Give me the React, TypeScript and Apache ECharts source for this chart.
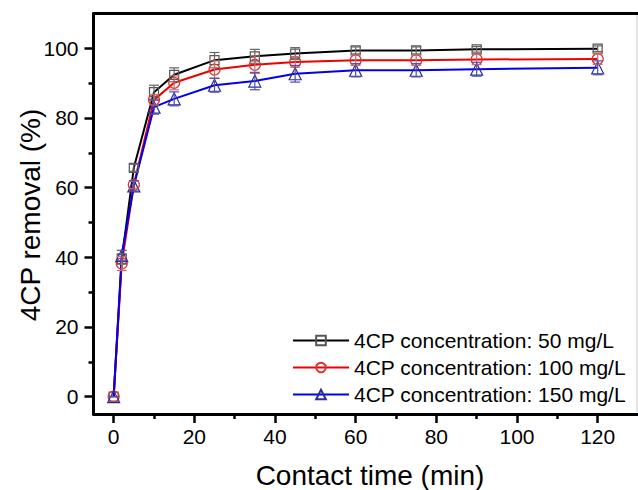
import React, { useEffect, useRef } from "react";
import * as echarts from "echarts";

// ---- data ----
const timeMin = [0, 2, 5, 10, 15, 25, 35, 45, 60, 75, 90, 120];
const removal50 = [0, 39.5, 65.7, 87.4, 92.4, 96.6, 97.7, 98.5, 99.4, 99.4, 99.7, 99.9];
const removal100 = [0, 38.2, 60.8, 85.2, 90.1, 93.9, 95.3, 96.1, 96.6, 96.6, 96.8, 96.9];
const removal150 = [0, 40.5, 60.5, 83.1, 85.5, 89.4, 90.6, 92.7, 93.7, 93.7, 94.0, 94.4];
const err50 = [0, 1.5, 1.0, 2.0, 2.0, 2.2, 2.0, 1.7, 1.0, 1.0, 0.8, 0.8];
const err100 = [0, 2.0, 1.0, 1.5, 2.0, 2.5, 2.5, 1.5, 1.5, 1.5, 1.5, 1.5];
const err150 = [0, 1.5, 1.5, 2.0, 2.0, 2.0, 2.5, 2.4, 1.9, 1.9, 2.0, 2.0];
const seriesNames = [
  "4CP concentration: 50 mg/L",
  "4CP concentration: 100 mg/L",
  "4CP concentration: 150 mg/L",
];
const xMajorTicks = [0, 20, 40, 60, 80, 100, 120];
const xMinorTicks = [10, 30, 50, 70, 90, 110];
const yMajorTicks = [0, 20, 40, 60, 80, 100];
const yMinorTicks = [10, 30, 50, 70, 90];
const xTitle = "Contact time (min)";
const yTitle = "4CP removal (%)";

const SANS = "'Liberation Sans', Arial, sans-serif";

function pairs(xs: number[], ys: number[]) {
  return xs.map((x, i) => [x, ys[i]]);
}
function errData(xs: number[], ys: number[], es: number[]) {
  return xs.map((x, i) => [x, ys[i] - es[i], ys[i] + es[i]]);
}

function errorSeries(data: number[][], color: string) {
  return {
    type: "custom",
    silent: true,
    z: 4,
    data,
    encode: { x: 0, y: [1, 2] },
    renderItem: (params: any, api: any) => {
      const x = api.value(0);
      const lo = api.coord([x, api.value(1)]);
      const hi = api.coord([x, api.value(2)]);
      const w = 5;
      const style = { stroke: color, lineWidth: 1.2 };
      return {
        type: "group",
        children: [
          { type: "line", shape: { x1: lo[0], y1: lo[1], x2: hi[0], y2: hi[1] }, style },
          { type: "line", shape: { x1: lo[0] - w, y1: lo[1], x2: lo[0] + w, y2: lo[1] }, style },
          { type: "line", shape: { x1: hi[0] - w, y1: hi[1], x2: hi[0] + w, y2: hi[1] }, style },
        ],
      };
    },
  };
}

function lineSeries(name: string, data: number[][], lineColor: string, markColor: string, symbol: string, size: number) {
  return {
    name,
    type: "line",
    data,
    z: 3,
    clip: false,
    symbol,
    symbolSize: size,
    showAllSymbol: true,
    lineStyle: { color: lineColor, width: 2 },
    itemStyle: { color: "rgba(255,255,255,0)", borderColor: markColor, borderWidth: 1.2 },
    emphasis: { disabled: true },
  };
}

export default function App() {
  const ref = useRef<HTMLDivElement>(null);
  useEffect(() => {
    if (!ref.current) return;
    const chart = echarts.init(ref.current, undefined, { renderer: "svg" });
    const axisLineStyle = { color: "#000", width: 3 };
    const common = { type: "value", min: -5, splitLine: { show: false } };
    const tickStyle = { color: "#000", width: 2.5 };
    const labelStyle = { fontSize: 21, fontFamily: SANS, color: "#000" };
    chart.setOption({
      animation: false,
      backgroundColor: "#fff",
      grid: { left: 93.5, right: -2, top: 13.5, bottom: 76 },
      legend: {
        orient: "vertical",
        left: 292,
        top: 330,
        padding: 0,
        itemGap: 6,
        itemWidth: 56,
        itemHeight: 12,
        selectedMode: false,
        textStyle: { fontSize: 21, fontFamily: SANS, color: "#000" },
        data: seriesNames,
      },
      xAxis: [
        {
          ...common,
          max: 130,
          position: "bottom",
          axisLine: { show: true, onZero: false, lineStyle: axisLineStyle },
          axisTick: { show: true, customValues: xMajorTicks, length: 9, lineStyle: tickStyle },
          axisLabel: { customValues: xMajorTicks, margin: 12, ...labelStyle },
        },
        {
          ...common,
          max: 130,
          position: "bottom",
          axisLine: { show: false, onZero: false },
          axisTick: { show: true, customValues: xMinorTicks, length: 5, lineStyle: tickStyle },
          axisLabel: { show: false },
        },
        {
          ...common,
          max: 130,
          position: "top",
          axisLine: { show: true, onZero: false, lineStyle: axisLineStyle },
          axisTick: { show: false },
          axisLabel: { show: false },
        },
      ],
      yAxis: [
        {
          ...common,
          max: 110,
          position: "left",
          axisLine: { show: true, onZero: false, lineStyle: axisLineStyle },
          axisTick: { show: true, customValues: yMajorTicks, length: 9, lineStyle: tickStyle },
          axisLabel: { customValues: yMajorTicks, margin: 15, ...labelStyle },
        },
        {
          ...common,
          max: 110,
          position: "left",
          axisLine: { show: false, onZero: false },
          axisTick: { show: true, customValues: yMinorTicks, length: 5, lineStyle: tickStyle },
          axisLabel: { show: false },
        },
      ],
      graphic: [
        {
          type: "text",
          x: 370,
          y: 475,
          style: { text: xTitle, fontSize: 28, fontFamily: SANS, fill: "#000", align: "center", verticalAlign: "middle" },
        },
        {
          type: "text",
          x: 30,
          y: 215,
          rotation: Math.PI / 2,
          style: { text: yTitle, fontSize: 28, fontFamily: SANS, fill: "#000", align: "center", verticalAlign: "middle" },
        },
        {
          type: "line",
          shape: { x1: 637, y1: 15, x2: 637, y2: 412 },
          style: { stroke: "#c8c8c8", lineWidth: 1 },
        },
      ],
      series: [
        lineSeries(seriesNames[0], pairs(timeMin, removal50), "#000000", "#555555", "rect", 9),
        lineSeries(seriesNames[1], pairs(timeMin, removal100), "#ee0000", "#e03030", "circle", 11),
        lineSeries(seriesNames[2], pairs(timeMin, removal150), "#0000ee", "#2a2a99", "triangle", 12),
        errorSeries(errData(timeMin, removal50, err50), "#666666"),
        errorSeries(errData(timeMin, removal100, err100), "#c07070"),
        errorSeries(errData(timeMin, removal150, err150), "#5050a8"),
      ],
    });
    return () => chart.dispose();
  }, []);
  return <div ref={ref} style={{ position: "fixed", left: 0, top: 0, width: 638, height: 490 }} />;
}
